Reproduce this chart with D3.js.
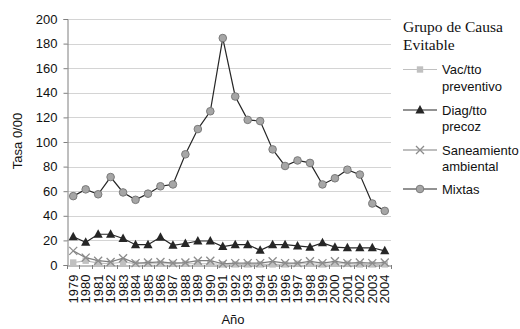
<!DOCTYPE html>
<html>
<head>
<meta charset="utf-8">
<script src="https://cdn.jsdelivr.net/npm/d3@7"></script>
<style>
  html, body { margin: 0; padding: 0; background: #fff; }
  svg { display: block; font-family: "Liberation Sans", Arial, sans-serif; }
</style>
</head>
<body>
<svg id="chart" width="520" height="329"></svg>
<script>
// Years on the category axis
const years = ["1979","1980","1981","1982","1983","1984","1985","1986","1987","1988",
  "1989","1990","1991","1992","1993","1994","1995","1996","1997","1998",
  "1999","2000","2001","2002","2003","2004"];

// Rates per 10,000 by avoidable-cause group
const vacTto = [2, 3.5, 1.5, 1, 2.5, 1, 1, 1, 1, 1, 1, 1, 0.5, 0.5, 0.5, 0.5, 0.5, 0.5, 1, 1, 0.5, 1, 1, 0.5, 0.5, 0.5];
const diagTto = [23, 18.5, 25, 25, 21.5, 16.5, 16.5, 22.5, 16, 17.5, 19.5, 19.5, 15, 16.5, 16.5, 12, 16.5, 16.5, 15.5, 14.5, 18, 14.5, 14, 14, 14, 11.5];
const saneamiento = [11.5, 6, 3.5, 2.5, 5.5, 1.5, 2, 2.5, 1.5, 2, 3.5, 3.5, 1, 1.5, 1.5, 1.5, 3, 1.5, 1.5, 3, 1.5, 3, 1.5, 2, 1.5, 2];
const mixtas = [56, 61.5, 57.5, 71.5, 59, 53, 58, 64, 65.5, 90, 110.5, 125, 184.5, 137, 118, 117, 94, 80.5, 85, 83, 65.5, 70.5, 77.5, 73.5, 50, 44];

const yTicks = [0, 20, 40, 60, 80, 100, 120, 140, 160, 180, 200];

const seriesNames = ["Vac/tto preventivo", "Diag/tto precoz", "Saneamiento ambiental", "Mixtas"];
const legendTitle = ["Grupo de Causa", "Evitable"];

const series = [
  { name: seriesNames[0], lines: ["Vac/tto", "preventivo"], values: vacTto, line: "#c0c0c0", marker: "square", fill: "#c0c0c0", stroke: "#c0c0c0" },
  { name: seriesNames[1], lines: ["Diag/tto", "precoz"], values: diagTto, line: "#262626", marker: "triangle", fill: "#262626", stroke: "#262626" },
  { name: seriesNames[2], lines: ["Saneamiento", "ambiental"], values: saneamiento, line: "#7f7f7f", marker: "cross", fill: "none", stroke: "#8c8c8c" },
  { name: seriesNames[3], lines: ["Mixtas"], values: mixtas, line: "#262626", marker: "circle", fill: "#a6a6a6", stroke: "#7a7a7a" }
];

const sans = "'Liberation Sans', Arial, sans-serif";
const serif = "'Liberation Serif', 'Times New Roman', serif";

const svg = d3.select("#chart");
const plot = { left: 67, right: 391, top: 19, bottom: 265 };

const x = d3.scaleBand().domain(years).range([plot.left, plot.right]).paddingInner(0).paddingOuter(0);
const cx = d => x(d) + x.bandwidth() / 2;
const y = d3.scaleLinear().domain([0, 200]).range([plot.bottom, plot.top]);

// Horizontal gridlines
svg.append("g").selectAll("line").data(yTicks.filter(t => t > 0)).join("line")
  .attr("x1", plot.left).attr("x2", plot.right)
  .attr("y1", d => Math.round(y(d)) + 0.5).attr("y2", d => Math.round(y(d)) + 0.5)
  .attr("stroke", "#d4d4d4").attr("stroke-width", 1);

// Y axis
const yAxis = svg.append("g").attr("transform", `translate(${plot.left + 0.5},0)`)
  .call(d3.axisLeft(y).tickValues(yTicks).tickSize(4).tickPadding(6));
yAxis.select(".domain").attr("stroke", "#7f7f7f");
yAxis.selectAll(".tick line").attr("stroke", "#7f7f7f");
yAxis.selectAll(".tick text").style("font-size", "13px").style("font-family", sans).attr("fill", "#111");

// X axis: labels centred on categories, ticks on category boundaries
const xAxis = svg.append("g").attr("transform", `translate(0,${plot.bottom + 0.5})`)
  .call(d3.axisBottom(x).tickSize(0).tickPadding(0));
xAxis.select(".domain").attr("stroke", "#7f7f7f");
xAxis.selectAll(".tick text")
  .style("font-size", "13px").style("font-family", sans).attr("fill", "#111")
  .attr("transform", "rotate(-90)")
  .attr("text-anchor", "end")
  .attr("x", -9).attr("y", 0).attr("dy", "0.35em");
svg.append("g").selectAll("line").data(years.concat(["end"])).join("line")
  .attr("x1", (d, i) => Math.round(i < years.length ? x(d) : plot.right) + 0.5)
  .attr("x2", (d, i) => Math.round(i < years.length ? x(d) : plot.right) + 0.5)
  .attr("y1", plot.bottom).attr("y2", plot.bottom + 4)
  .attr("stroke", "#7f7f7f");

// Axis titles
svg.append("text").attr("x", 233).attr("y", 324).attr("text-anchor", "middle")
  .style("font-size", "13px").style("font-family", sans).attr("fill", "#111").text("Año");
svg.append("text").attr("transform", "translate(22,141) rotate(-90)").attr("text-anchor", "middle")
  .style("font-size", "13px").style("font-family", sans).attr("fill", "#111").text("Tasa 0/00");

// Marker drawing
function drawMarker(g, s) {
  if (s.marker === "circle") {
    g.append("circle").attr("r", 3.8).attr("fill", s.fill).attr("stroke", s.stroke).attr("stroke-width", 1);
  } else if (s.marker === "square") {
    g.append("rect").attr("x", -3.2).attr("y", -3.2).attr("width", 6.4).attr("height", 6.4).attr("fill", s.fill);
  } else if (s.marker === "triangle") {
    g.append("path").attr("d", "M0,-5L4.6,3.5L-4.6,3.5Z").attr("fill", s.fill);
  } else if (s.marker === "cross") {
    g.append("path").attr("d", "M-4,-4L4,4M-4,4L4,-4").attr("stroke", s.stroke).attr("stroke-width", 1.3).attr("fill", "none");
  }
}

const line = d3.line().x((d, i) => cx(years[i])).y(d => y(d));

series.forEach(s => {
  const g = svg.append("g");
  g.append("path").datum(s.values).attr("d", line)
    .attr("fill", "none").attr("stroke", s.line).attr("stroke-width", 1.2);
  s.values.forEach((v, i) => {
    const m = g.append("g").attr("transform", `translate(${cx(years[i])},${y(v)})`);
    drawMarker(m, s);
  });
});

// Legend
const legend = svg.append("g");
legendTitle.forEach((t, i) => {
  legend.append("text").attr("x", 403).attr("y", 32 + i * 17.6)
    .style("font-family", serif).style("font-size", "15.5px").attr("fill", "#111").text(t);
});
const itemBaselines = [74, 114.5, 154.5, 193.5];
series.forEach((s, i) => {
  const by = itemBaselines[i];
  const ly = by - 4.5;
  legend.append("line").attr("x1", 403).attr("x2", 437).attr("y1", ly).attr("y2", ly)
    .attr("stroke", s.line).attr("stroke-width", 1.2);
  drawMarker(legend.append("g").attr("transform", `translate(420,${ly})`), s);
  s.lines.forEach((t, j) => {
    legend.append("text").attr("x", 442).attr("y", by + j * 16.5)
      .style("font-size", "13px").style("font-family", sans).attr("fill", "#111").text(t);
  });
});
</script>
</body>
</html>
